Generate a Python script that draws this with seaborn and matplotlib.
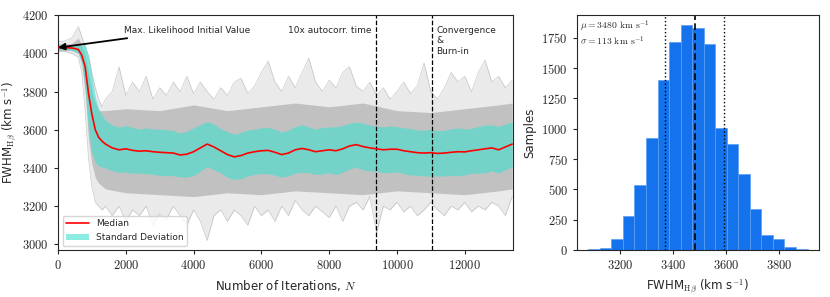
import numpy as np
import matplotlib
matplotlib.use("Agg")
import matplotlib.pyplot as plt
import matplotlib.ticker as mticker
import seaborn as sns

# ---- trace data ----
iters_early = [0, 200, 400, 500, 600, 700, 800, 900, 1000, 1100, 1200, 1300]
iters = np.concatenate([iters_early, np.arange(1400, 13401, 200)])

median = [4030, 4030, 4028, 4025, 4020, 3990, 3930, 3790, 3680, 3600, 3560, 3540,
          3525, 3505, 3495, 3500, 3492, 3488, 3490, 3485, 3482, 3480, 3478, 3468,
          3472, 3485, 3505, 3525, 3510, 3490, 3470, 3458, 3465, 3478, 3485, 3490,
          3492, 3482, 3470, 3478, 3495, 3502, 3495, 3485, 3490, 3495, 3490, 3500,
          3515, 3522, 3512, 3505, 3500, 3495, 3498, 3498, 3490, 3485, 3480, 3478,
          3480, 3476, 3478, 3482, 3485, 3484, 3490, 3495, 3500, 3505, 3495, 3510,
          3525]

std = [10, 10, 12, 15, 20, 50, 120, 190, 200, 170, 150, 135,
       125, 120, 118, 122, 120, 115, 120, 118, 122, 120, 118, 115,
       120, 125, 122, 118, 120, 115, 120, 118, 122, 120, 118, 120,
       122, 120, 118, 120, 122, 125, 120, 118, 122, 120, 125, 122,
       120, 118, 122, 120, 118, 120, 122, 118, 120, 122, 118, 120,
       122, 118, 120, 122, 125, 120, 118, 122, 125, 120, 122, 120,
       118]

walk_hi = [4060, 4065, 4080, 4110, 4140, 4090, 4030, 3990, 3900, 3820, 3760, 3720,
           3760, 3800, 3930, 3780, 3850, 3800, 3880, 3760, 3820, 3780, 3850, 3800,
           3880, 3790, 3850, 3800, 3760, 3820, 3780, 3850, 3870, 3790, 3830, 3900,
           3960, 3850, 3800, 3880, 3820, 3900, 3975, 3850, 3800, 3860, 3820, 3900,
           3930, 3830, 3800, 3850, 3780, 3820, 3760, 3800, 3850, 3790, 3830, 3950,
           3800, 3760, 3820, 3900, 3850, 3880, 3800, 3900, 3965, 3850, 3880, 3820,
           3860]

walk_lo = [4010, 4010, 4000, 3990, 3980, 3900, 3700, 3450, 3300, 3220, 3200, 3180,
           3200, 3150, 3200, 3120, 3180, 3150, 3200, 3100, 3160, 3130, 3200, 3150,
           3100, 3180, 3120, 3020, 3150, 3180, 3120, 3180, 3150, 3100, 3200, 3150,
           3180, 3120, 3200, 3150, 3230, 3180, 3150, 3200, 3170, 3140, 3200, 3120,
           3200, 3220, 3180, 3250, 3060, 3200, 3180, 3220, 3170, 3200, 3150, 3180,
           3220, 3180, 3150, 3200, 3180, 3220, 3170, 3200, 3180, 3220, 3200, 3150,
           3250]

dense_iters = [0, 400, 600, 700, 800, 900, 1000, 1100, 1200, 1400, 2000, 3000, 4000,
               5000, 6000, 7000, 8000, 9000, 10000, 11000, 12000, 13000, 13400]
dense_hi = [4050, 4050, 4080, 4040, 3990, 3900, 3800, 3740, 3700, 3700, 3710, 3700,
            3730, 3700, 3720, 3740, 3720, 3740, 3700, 3690, 3710, 3730, 3740]
dense_lo = [4015, 4015, 4000, 3950, 3800, 3550, 3420, 3350, 3320, 3290, 3270, 3260,
            3250, 3270, 3260, 3280, 3270, 3260, 3280, 3270, 3260, 3280, 3290]

autocorr_n = 9370
burnin_n = 11040

# ---- posterior histogram ----
bin_edges = [3078, 3122, 3165, 3209, 3252, 3296, 3340, 3383, 3427, 3471, 3514,
             3558, 3602, 3645, 3689, 3733, 3776, 3820, 3864, 3908]
counts = [8, 15, 93, 285, 537, 923, 1402, 1717, 1854, 1832, 1700,
          1010, 874, 628, 340, 121, 88, 28, 8]
mu = 3480
sigma = 113

sns.set_style("ticks")
plt.rcParams['font.family'] = ['DejaVu Sans']
plt.rcParams['mathtext.fontset'] = 'cm'

fig = plt.figure(figsize=(8.3, 2.97), dpi=100)
ax1 = fig.add_axes([0.0699, 0.158, 0.548, 0.791])
ax2 = fig.add_axes([0.695, 0.158, 0.2916, 0.791])

math_fmt = mticker.FuncFormatter(lambda v, p: r"$%d$" % v)

# walkers (spread of the chains)
ax1.fill_between(iters, walk_lo, walk_hi, color="0.6", alpha=0.2, lw=0, zorder=1)
ax1.fill_between(dense_iters, dense_lo, dense_hi, color="0.35", alpha=0.28, lw=0, zorder=1)
ax1.plot(iters, walk_hi, color="0.55", alpha=0.45, lw=0.5, zorder=1)
ax1.plot(iters, walk_lo, color="0.55", alpha=0.45, lw=0.5, zorder=1)

med = np.array(median)
sd = np.array(std)
ax1.fill_between(iters, med - sd, med + sd, color="#40e0d0", alpha=0.6, lw=0,
                 zorder=2, label="Standard Deviation")
sns.lineplot(x=iters, y=median, color="red", lw=1.2, ax=ax1, zorder=3, label="Median")

ax1.axvline(autocorr_n, color="black", ls="--", lw=0.9)
ax1.axvline(burnin_n, color="black", ls="--", lw=0.9)
ax1.text(autocorr_n - 120, 4120, "10x autocorr. time", ha="right", va="center", fontsize=6.5)
ax1.text(burnin_n + 120, 4145, "Convergence\n&\nBurn-in", ha="left", va="top",
         fontsize=6.5, linespacing=1.25)
ax1.annotate("Max. Likelihood Initial Value", xy=(0, 4030), xytext=(1950, 4122),
             fontsize=6.5, va="center",
             arrowprops=dict(arrowstyle="-|>", color="black", lw=1.3,
                             mutation_scale=10, shrinkA=2, shrinkB=0))

ax1.set_xlim(0, 13420)
ax1.set_ylim(2970, 4200)
ax1.set_xticks(range(0, 12001, 2000))
ax1.set_yticks(range(3000, 4201, 200))
ax1.xaxis.set_major_formatter(math_fmt)
ax1.yaxis.set_major_formatter(math_fmt)
ax1.tick_params(labelsize=9, length=3)
ax1.set_xlabel(r"Number of Iterations, $N$", fontsize=8.5)
ax1.set_ylabel(r"FWHM$_{\mathrm{H}\beta}$ (km s$^{-1}$)", fontsize=8.5)
ax1.yaxis.set_label_coords(-0.083, 0.5)

h, l = ax1.get_legend_handles_labels()
order = [l.index("Median"), l.index("Standard Deviation")]
ax1.legend([h[i] for i in order], [l[i] for i in order], loc="lower left",
           fontsize=6.5, frameon=True, handlelength=2.5)

# histogram
centers = [(bin_edges[i] + bin_edges[i + 1]) / 2 for i in range(len(counts))]
sns.histplot(x=centers, weights=counts, bins=bin_edges, color="#1473ec",
             alpha=1.0, edgecolor="#5a9ef2", linewidth=0.5, ax=ax2)
ax2.axvline(mu, color="black", ls=(0, (4, 2)), lw=1.2)
ax2.axvline(mu - sigma, color="black", ls=":", lw=1.0)
ax2.axvline(mu + sigma, color="black", ls=":", lw=1.0)
ax2.text(0.015, 0.985, r"$\mu = %d\ \mathrm{km\ s^{-1}}$" "\n" r"$\sigma = %d\ \mathrm{km\ s^{-1}}$" % (mu, sigma),
         transform=ax2.transAxes, ha="left", va="top", fontsize=7, linespacing=1.0)
ax2.set_xlim(3035, 3950)
ax2.set_ylim(0, 1937)
ax2.set_xticks([3200, 3400, 3600, 3800])
ax2.set_yticks(range(0, 1751, 250))
ax2.xaxis.set_major_formatter(math_fmt)
ax2.yaxis.set_major_formatter(math_fmt)
ax2.tick_params(labelsize=9, length=3)
ax2.set_xlabel(r"FWHM$_{\mathrm{H}\beta}$ (km s$^{-1}$)", fontsize=8.5)
ax2.set_ylabel("Samples", fontsize=8.5)

fig.savefig("out.png", dpi=100)
